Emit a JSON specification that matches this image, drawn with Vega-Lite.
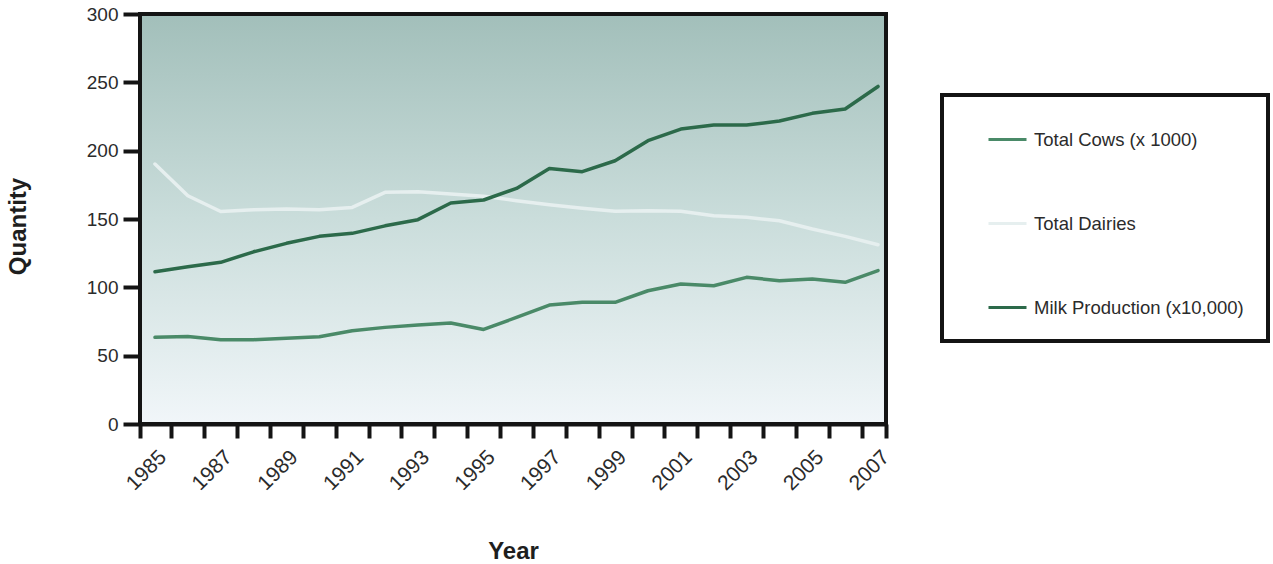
{
  "$schema": "https://vega.github.io/schema/vega-lite/v6.json",
  "width": 746,
  "height": 410,
  "padding": {"left": 6, "top": 5, "right": 5, "bottom": 5},
  "background": "#ffffff",
  "config": {
    "view": {"stroke": null},
    "font": "Liberation Sans",
    "legend": {"strokeWidth": 4},
    "axis": {"zindex": 1, "grid": false, "domainColor": "#141414", "domainWidth": 4, "tickColor": "#141414", "tickWidth": 4, "labelColor": "#2b2b2b", "labelFontSize": 19, "labelFont": "Liberation Sans", "titleFont": "Liberation Sans", "titleFontSize": 24, "titleFontWeight": "bold", "titleColor": "#1e1e1e"}
  },
  "datasets": {
    "series": [
      {"year": 1985, "series": "Total Cows (x 1000)", "value": 63.4},
      {"year": 1986, "series": "Total Cows (x 1000)", "value": 64.1},
      {"year": 1987, "series": "Total Cows (x 1000)", "value": 61.7},
      {"year": 1988, "series": "Total Cows (x 1000)", "value": 61.7},
      {"year": 1989, "series": "Total Cows (x 1000)", "value": 62.7},
      {"year": 1990, "series": "Total Cows (x 1000)", "value": 63.9},
      {"year": 1991, "series": "Total Cows (x 1000)", "value": 68.3},
      {"year": 1992, "series": "Total Cows (x 1000)", "value": 70.7},
      {"year": 1993, "series": "Total Cows (x 1000)", "value": 72.4},
      {"year": 1994, "series": "Total Cows (x 1000)", "value": 73.9},
      {"year": 1995, "series": "Total Cows (x 1000)", "value": 69.2},
      {"year": 1996, "series": "Total Cows (x 1000)", "value": 78.0},
      {"year": 1997, "series": "Total Cows (x 1000)", "value": 87.0},
      {"year": 1998, "series": "Total Cows (x 1000)", "value": 89.0},
      {"year": 1999, "series": "Total Cows (x 1000)", "value": 89.0},
      {"year": 2000, "series": "Total Cows (x 1000)", "value": 97.5},
      {"year": 2001, "series": "Total Cows (x 1000)", "value": 102.4},
      {"year": 2002, "series": "Total Cows (x 1000)", "value": 101.2},
      {"year": 2003, "series": "Total Cows (x 1000)", "value": 107.3},
      {"year": 2004, "series": "Total Cows (x 1000)", "value": 104.9},
      {"year": 2005, "series": "Total Cows (x 1000)", "value": 106.1},
      {"year": 2006, "series": "Total Cows (x 1000)", "value": 103.7},
      {"year": 2007, "series": "Total Cows (x 1000)", "value": 112.2},
      {"year": 1985, "series": "Total Dairies", "value": 190.2},
      {"year": 1986, "series": "Total Dairies", "value": 167.0},
      {"year": 1987, "series": "Total Dairies", "value": 155.5},
      {"year": 1988, "series": "Total Dairies", "value": 156.8},
      {"year": 1989, "series": "Total Dairies", "value": 157.3},
      {"year": 1990, "series": "Total Dairies", "value": 156.8},
      {"year": 1991, "series": "Total Dairies", "value": 158.5},
      {"year": 1992, "series": "Total Dairies", "value": 169.5},
      {"year": 1993, "series": "Total Dairies", "value": 170.0},
      {"year": 1994, "series": "Total Dairies", "value": 168.3},
      {"year": 1995, "series": "Total Dairies", "value": 166.6},
      {"year": 1996, "series": "Total Dairies", "value": 163.4},
      {"year": 1997, "series": "Total Dairies", "value": 160.4},
      {"year": 1998, "series": "Total Dairies", "value": 157.8},
      {"year": 1999, "series": "Total Dairies", "value": 155.6},
      {"year": 2000, "series": "Total Dairies", "value": 156.0},
      {"year": 2001, "series": "Total Dairies", "value": 155.6},
      {"year": 2002, "series": "Total Dairies", "value": 152.4},
      {"year": 2003, "series": "Total Dairies", "value": 151.2},
      {"year": 2004, "series": "Total Dairies", "value": 148.7},
      {"year": 2005, "series": "Total Dairies", "value": 142.7},
      {"year": 2006, "series": "Total Dairies", "value": 137.3},
      {"year": 2007, "series": "Total Dairies", "value": 131.2},
      {"year": 1985, "series": "Milk Production (x10,000)", "value": 111.4},
      {"year": 1986, "series": "Milk Production (x10,000)", "value": 115.1},
      {"year": 1987, "series": "Milk Production (x10,000)", "value": 118.3},
      {"year": 1988, "series": "Milk Production (x10,000)", "value": 126.0},
      {"year": 1989, "series": "Milk Production (x10,000)", "value": 132.2},
      {"year": 1990, "series": "Milk Production (x10,000)", "value": 137.3},
      {"year": 1991, "series": "Milk Production (x10,000)", "value": 139.5},
      {"year": 1992, "series": "Milk Production (x10,000)", "value": 145.0},
      {"year": 1993, "series": "Milk Production (x10,000)", "value": 149.5},
      {"year": 1994, "series": "Milk Production (x10,000)", "value": 161.7},
      {"year": 1995, "series": "Milk Production (x10,000)", "value": 163.9},
      {"year": 1996, "series": "Milk Production (x10,000)", "value": 172.4},
      {"year": 1997, "series": "Milk Production (x10,000)", "value": 187.0},
      {"year": 1998, "series": "Milk Production (x10,000)", "value": 184.6},
      {"year": 1999, "series": "Milk Production (x10,000)", "value": 192.6},
      {"year": 2000, "series": "Milk Production (x10,000)", "value": 207.3},
      {"year": 2001, "series": "Milk Production (x10,000)", "value": 215.8},
      {"year": 2002, "series": "Milk Production (x10,000)", "value": 218.7},
      {"year": 2003, "series": "Milk Production (x10,000)", "value": 218.7},
      {"year": 2004, "series": "Milk Production (x10,000)", "value": 221.7},
      {"year": 2005, "series": "Milk Production (x10,000)", "value": 227.3},
      {"year": 2006, "series": "Milk Production (x10,000)", "value": 230.5},
      {"year": 2007, "series": "Milk Production (x10,000)", "value": 247.0}
    ]
  },
  "layer": [
    {
      "data": {"values": [{}]},
      "mark": {
        "type": "rect",
        "stroke": "#141414",
        "strokeWidth": 4,
        "fill": {"gradient": "linear", "x1": 0, "y1": 0, "x2": 0, "y2": 1, "stops": [
          {"offset": 0, "color": "#a2bfba"},
          {"offset": 0.5, "color": "#cadddb"},
          {"offset": 1, "color": "#f1f6f9"}
        ]}
      },
      "encoding": {
        "x": {"datum": 1984.544, "type": "quantitative"},
        "x2": {"datum": 2007.243},
        "y": {"datum": 0, "type": "quantitative"},
        "y2": {"datum": 300}
      }
    },
    {
      "data": {"name": "series"},
      "mark": {"type": "line", "strokeWidth": 3.5, "strokeJoin": "round", "strokeCap": "round"},
      "encoding": {
        "x": {
          "field": "year", "type": "quantitative",
          "scale": {"domain": [1984.544, 2007.243], "nice": false, "zero": false},
          "axis": {
            "title": "Year",
            "tickCount": 200,
            "values": [1984.544, 1985, 1985.5, 1986.5, 1987, 1987.5, 1988.5, 1989, 1989.5, 1990.5, 1991, 1991.5, 1992.5, 1993, 1993.5, 1994.5, 1995, 1995.5, 1996.5, 1997, 1997.5, 1998.5, 1999, 1999.5, 2000.5, 2001, 2001.5, 2002.5, 2003, 2003.5, 2004.5, 2005, 2005.5, 2006.5, 2007, 2007.243],
            "tickOpacity": {"condition": {"test": "datum.value % 1 == 0", "value": 0}, "value": 1},
            "labelExpr": "datum.value % 1 == 0 ? '' + datum.value : ''",
            "tickSize": 14,
            "labelAngle": -45,
            "labelFontSize": 21,
            "labelPadding": 8,
            "labelDx": -3,
            "labelOverlap": false,
            "labelBound": false,
            "labelFlush": false,
            "titlePadding": 46
          }
        },
        "y": {
          "field": "value", "type": "quantitative",
          "scale": {"domain": [0, 300], "nice": false},
          "axis": {
            "title": "Quantity",
            "titleY": 212,
            "values": [0, 50, 100, 150, 200, 250, 300],
            "tickSize": 17,
            "labelPadding": 5,
            "titlePadding": 56
          }
        },
        "color": {
          "field": "series", "type": "nominal",
          "scale": {
            "domain": ["Total Cows (x 1000)", "Total Dairies", "Milk Production (x10,000)"],
            "range": ["#4a8a68", "#e6efef", "#2c6a4a"]
          },
          "legend": {
            "title": null,
            "orient": "none",
            "legendX": 802,
            "legendY": 81,
            "direction": "vertical",
            "padding": 24,
            "symbolOffset": 21,
            "rowPadding": 54,
            "strokeColor": "#141414",
            "fillColor": "#ffffff",
            "symbolType": "stroke",
            "symbolSize": 1444,
            "symbolStrokeWidth": 3,
            "labelFontSize": 18.5,
            "labelColor": "#2b2b2b",
            "labelOffset": 6,
            "labelLimit": 400
          }
        }
      }
    }
  ]
}
